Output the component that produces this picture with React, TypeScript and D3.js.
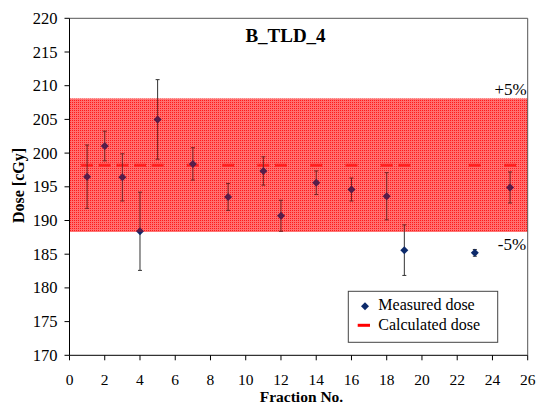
import React from "react";
import * as d3 from "d3";

const fractions = [1, 2, 3, 4, 5, 7, 9, 11, 12, 14, 16, 18, 19, 23, 25];
const measured = [196.5, 201.05, 196.4, 188.4, 205.0, 198.4, 193.5, 197.35, 190.7, 195.6, 194.6, 193.6, 185.6, 185.2, 194.9];
const errors = [4.7, 2.2, 3.5, 5.8, 5.9, 2.4, 2.0, 2.1, 2.3, 1.75, 1.7, 3.5, 3.75, 0.5, 2.3];
const calculatedDose = 198.2;
const bandLow = 188.3;
const bandHigh = 208.1;
const xTicks = [0, 2, 4, 6, 8, 10, 12, 14, 16, 18, 20, 22, 24, 26];
const yTicks = [170, 175, 180, 185, 190, 195, 200, 205, 210, 215, 220];

const W = 540, H = 407;
const L = 69.5, R = 527.7, T = 18.3, B = 355.3;
const font = "'Liberation Serif', 'DejaVu Serif', 'Times New Roman', Times, serif";

export default function App() {
  const x = d3.scaleLinear().domain([0, 26]).range([L, R]);
  const y = d3.scaleLinear().domain([170, 220]).range([B, T]);
  const diamond = (cx: number, cy: number, r: number) =>
    `M${cx},${cy - r}L${cx + r},${cy}L${cx},${cy + r}L${cx - r},${cy}Z`;
  const ts = { fontFamily: font };
  return (
    <svg width={W} height={H} style={{ position: "absolute", left: 0, top: 0, fontFamily: font }}>
      <defs>
        <pattern id="hatch" width="2" height="2" patternUnits="userSpaceOnUse">
          <rect width="2" height="2" fill="#ff2424" />
          <rect x="1" y="0" width="1" height="2" fill="#ffa0a0" />
          <rect x="0" y="1" width="2" height="1" fill="#ffa0a0" />
        </pattern>
      </defs>
      <rect width={W} height={H} fill="#fff" />
      <rect x={L} y={y(bandHigh)} width={R - L} height={y(bandLow) - y(bandHigh)} fill="url(#hatch)" />
      {fractions.map((f, i) => (
        <line key={"c" + i} x1={x(f) - 6} x2={x(f) + 6} y1={y(calculatedDose)} y2={y(calculatedDose)} stroke="#ff3030" strokeWidth={3} />
      ))}
      {fractions.map((f, i) => {
        const cx = x(f);
        const y1 = y(measured[i] + errors[i]);
        const y2 = y(measured[i] - errors[i]);
        return (
          <g key={"e" + i} stroke="#333" strokeWidth={1}>
            <line x1={cx} x2={cx} y1={y1} y2={y2} />
            <line x1={cx - 2} x2={cx + 2} y1={y1} y2={y1} />
            <line x1={cx - 2} x2={cx + 2} y1={y2} y2={y2} />
          </g>
        );
      })}
      {fractions.map((f, i) => (
        <path key={"m" + i} d={diamond(x(f), y(measured[i]), 4)} fill="#0d2a6b" />
      ))}
      <rect x={L} y={y(bandHigh)} width={R - L} height={y(bandLow) - y(bandHigh)} fill="#ff0000" opacity={0.3} />
      <line x1={L} x2={L} y1={T} y2={B} stroke="#000" />
      <line x1={L} x2={R} y1={B} y2={B} stroke="#000" />
      <line x1={L} x2={R} y1={T} y2={T} stroke="#555" />
      <line x1={R} x2={R} y1={T} y2={B} stroke="#555" />
      {yTicks.map((t) => (
        <g key={"y" + t}>
          <line x1={L - 5} x2={L} y1={y(t)} y2={y(t)} stroke="#000" />
          <text x={L - 12} y={y(t) + 5.5} textAnchor="end" fontSize={16.5} style={ts}>{t}</text>
        </g>
      ))}
      {xTicks.map((t) => (
        <g key={"x" + t}>
          <line x1={x(t)} x2={x(t)} y1={B} y2={B + 5} stroke="#000" />
          <text x={x(t)} y={384.5} textAnchor="middle" fontSize={15.5} style={ts}>{t}</text>
        </g>
      ))}
      <text x={285.5} y={42} textAnchor="middle" fontSize={19} fontWeight="bold" style={ts}>B_TLD_4</text>
      <text x={301.5} y={402} textAnchor="middle" fontSize={15.5} fontWeight="bold" style={ts}>Fraction No.</text>
      <text transform="translate(24,185.5) rotate(-90)" textAnchor="middle" fontSize={16} fontWeight="bold" style={ts}>Dose [cGy]</text>
      <text x={R - 1} y={95} textAnchor="end" fontSize={17} style={ts}>+5%</text>
      <text x={R - 1.5} y={249.5} textAnchor="end" fontSize={17} style={ts}>-5%</text>
      <rect x={348.3} y={291.3} width={149.4} height={51} fill="#fff" stroke="#444" strokeWidth={1} />
      <path d={diamond(365, 306.3, 4)} fill="#0d2a6b" />
      <text x={378.3} y={309.7} fontSize={16} style={ts}>Measured dose</text>
      <line x1={357.7} x2={370} y1={325.3} y2={325.3} stroke="#ff0000" strokeWidth={3} />
      <text x={378.3} y={329.7} fontSize={16} style={ts}>Calculated dose</text>
    </svg>
  );
}
